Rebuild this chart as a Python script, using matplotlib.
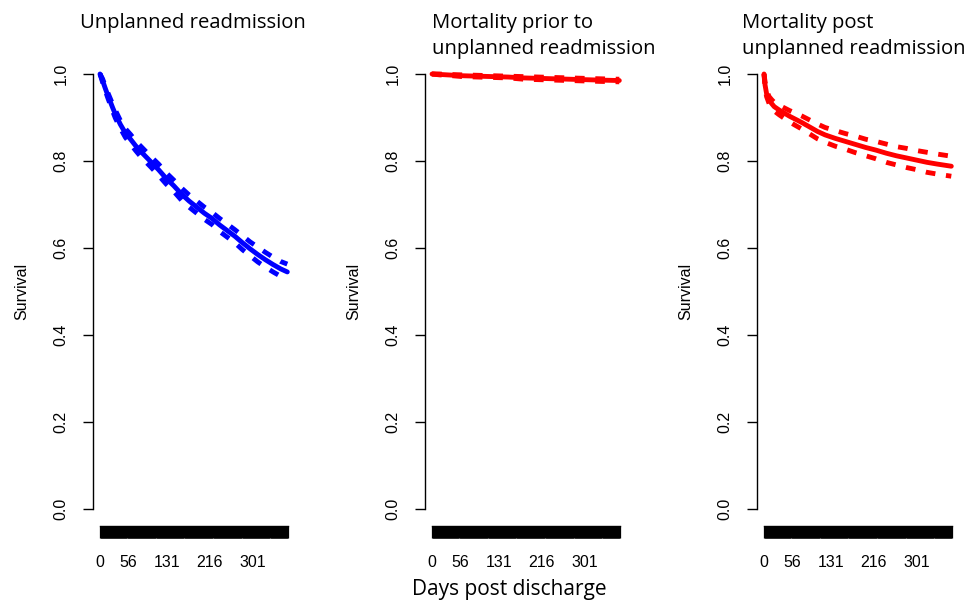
import matplotlib
matplotlib.use("Agg")
import matplotlib.pyplot as plt
import numpy as np

# ---------------- data ----------------
titles = [["Unplanned readmission"],
          ["Mortality prior to", "unplanned readmission"],
          ["Mortality post", "unplanned readmission"]]
colors = ["#0000FF", "#FF0000", "#FF0000"]
xtick_labels = [0, 56, 131, 216, 301]
ytick_vals = [0.0, 0.2, 0.4, 0.6, 0.8, 1.0]

days1 = [0, 5, 10, 15, 20, 25, 30, 40, 50, 60, 70, 80, 90, 100, 115, 130, 145,
         160, 175, 190, 205, 220, 235, 250, 265, 280, 295, 310, 325, 340, 355, 368]
surv1 = [1.0, 0.985, 0.968, 0.952, 0.937, 0.922, 0.908, 0.884, 0.864, 0.850, 0.835,
         0.822, 0.810, 0.798, 0.780, 0.760, 0.743, 0.724, 0.708, 0.694, 0.680,
         0.668, 0.653, 0.640, 0.627, 0.612, 0.598, 0.585, 0.573, 0.562, 0.552, 0.545]
upper1 = [1.0, 0.989, 0.973, 0.958, 0.944, 0.930, 0.917, 0.893, 0.874, 0.861, 0.846,
          0.834, 0.822, 0.810, 0.793, 0.773, 0.756, 0.738, 0.722, 0.708, 0.694,
          0.682, 0.668, 0.655, 0.642, 0.628, 0.614, 0.602, 0.590, 0.579, 0.569, 0.563]
lower1 = [1.0, 0.981, 0.963, 0.946, 0.930, 0.914, 0.899, 0.875, 0.854, 0.839, 0.824,
          0.810, 0.798, 0.786, 0.767, 0.747, 0.730, 0.710, 0.694, 0.680, 0.666,
          0.654, 0.638, 0.625, 0.612, 0.596, 0.582, 0.568, 0.556, 0.545, 0.535, 0.527]

days2 = [0, 15, 30, 60, 90, 120, 150, 180, 210, 240, 270, 300, 330, 368]
surv2 = [1.0, 0.999, 0.998, 0.996, 0.995, 0.994, 0.993, 0.991, 0.990, 0.989,
         0.988, 0.987, 0.986, 0.985]
upper2 = [1.0, 1.0, 0.999, 0.998, 0.997, 0.996, 0.995, 0.994, 0.993, 0.992,
          0.991, 0.990, 0.989, 0.988]
lower2 = [1.0, 0.998, 0.997, 0.994, 0.993, 0.992, 0.991, 0.988, 0.987, 0.986,
          0.985, 0.984, 0.983, 0.982]

days3 = [0, 2, 5, 10, 15, 20, 30, 40, 50, 60, 75, 90, 105, 120, 140, 160, 180,
         200, 220, 240, 260, 280, 300, 320, 340, 368]
surv3 = [1.0, 0.975, 0.955, 0.940, 0.932, 0.925, 0.917, 0.910, 0.903, 0.897,
         0.888, 0.878, 0.868, 0.860, 0.852, 0.845, 0.838, 0.831, 0.825, 0.818,
         0.812, 0.807, 0.802, 0.797, 0.793, 0.788]
upper3 = [1.0, 0.982, 0.962, 0.948, 0.941, 0.935, 0.928, 0.922, 0.916, 0.911,
          0.903, 0.894, 0.885, 0.877, 0.870, 0.863, 0.857, 0.850, 0.845, 0.839,
          0.833, 0.829, 0.824, 0.820, 0.816, 0.811]
lower3 = [1.0, 0.968, 0.948, 0.932, 0.923, 0.915, 0.906, 0.898, 0.890, 0.883,
          0.873, 0.862, 0.851, 0.843, 0.834, 0.827, 0.819, 0.812, 0.805, 0.797,
          0.791, 0.785, 0.780, 0.774, 0.770, 0.765]

panels = [(days1, surv1, upper1, lower1),
          (days2, surv2, upper2, lower2),
          (days3, surv3, upper3, lower3)]
max_day = 369

# ---------------- figure ----------------
W, H = 973, 605
fig = plt.figure(figsize=(W / 100, H / 100), dpi=100)

tick_font = "Liberation Sans"
title_font = "Open Sans"

lefts_px = [92.6, 424.6, 756.6]
width_px = 200.6
top_px, bottom_px = 56.6, 526.4
title_x_px = [80, 432, 742]
title_baselines_px = [28, 54]

for i, (d, s, u, l) in enumerate(panels):
    ax = fig.add_axes([lefts_px[i] / W, 1 - bottom_px / H,
                       width_px / W, (bottom_px - top_px) / H])
    c = colors[i]
    ax.plot(d, s, color=c, lw=3.5, solid_capstyle="round", solid_joinstyle="round")
    ax.plot(d, u, color=c, lw=3.5, linestyle=(0, (2.0, 2.2)), dash_capstyle="butt")
    ax.plot(d, l, color=c, lw=3.5, linestyle=(0, (2.0, 2.2)), dash_capstyle="butt")

    ax.set_xlim(-14.6, 379.6)
    ax.set_ylim(-0.04, 1.04)
    for sp in ["top", "right"]:
        ax.spines[sp].set_visible(False)
    ax.spines["left"].set_bounds(0, 1)
    ax.spines["bottom"].set_bounds(0, max_day)
    ax.spines["left"].set_linewidth(1.0)
    ax.spines["bottom"].set_linewidth(1.0)

    ax.set_yticks(ytick_vals)
    ax.set_yticklabels([f"{v:.1f}" for v in ytick_vals], rotation=90,
                       va="center", fontfamily=tick_font, fontsize=11.5)
    ax.tick_params(axis="y", length=7.5, width=1.0, pad=10)

    ax.set_xticks(xtick_labels)
    ax.set_xticklabels([str(v) for v in xtick_labels], fontfamily=tick_font,
                       fontsize=11.5)
    ax.set_xticks(np.arange(0, max_day + 1), minor=True)
    ax.tick_params(axis="x", which="both", length=8.5, width=0.9, pad=12)

    ax.set_ylabel("Survival", fontfamily=tick_font, fontsize=11.5)
    ax.yaxis.set_label_coords(-0.315, 0.5)

    for j, line in enumerate(titles[i]):
        fig.text(title_x_px[i] / W, 1 - title_baselines_px[j] / H, line,
                 ha="left", va="baseline", fontfamily=title_font, fontsize=14.6)

fig.text(509.5 / W, 1 - 590 / H, "Days post discharge", ha="center", va="center",
         fontfamily=title_font, fontsize=15)

fig.savefig("out.png", dpi=100)
